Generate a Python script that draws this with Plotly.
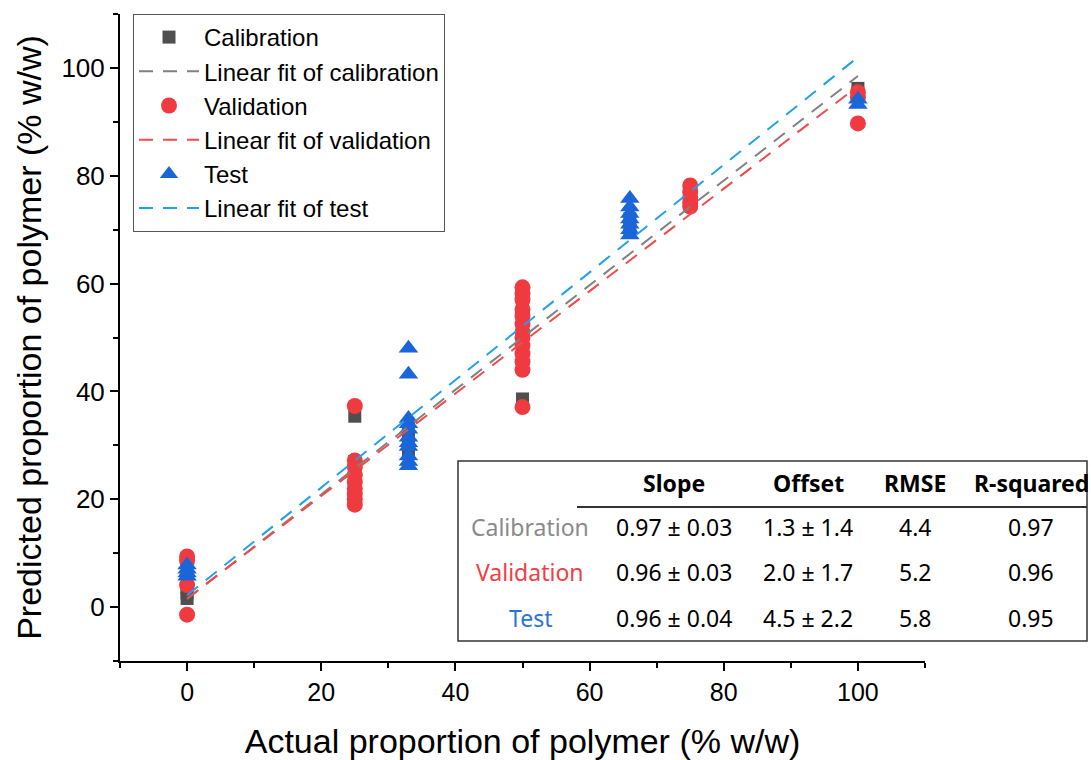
import plotly.graph_objects as go

# ---------------- data ----------------
cal_x = [0, 0, 0, 25, 25, 25, 25, 25, 33, 33, 33, 50, 50, 50, 50, 50, 50, 50, 66, 66, 75, 75, 100, 100]
cal_y = [1.6, 2.6, 3.6, 35.4, 27.0, 25.0, 23.0, 21.0, 29.0, 31.0, 33.0, 58.0, 56.0, 53.0, 50.0, 47.0, 45.0, 38.6, 70.0, 72.0, 75.0, 77.0, 96.2, 95.2]

val_x = [0, 0, 0, 0, 25, 25, 25, 25, 25, 25, 25, 25, 25,
         50, 50, 50, 50, 50, 50, 50, 50, 50, 50, 50, 50, 50,
         75, 75, 75, 75, 75, 100, 100, 100]
val_y = [9.4, 8.6, 4.1, -1.4, 37.3, 27.2, 26.0, 24.5, 23.2, 22.0, 21.0, 20.0, 19.0,
         59.3, 58.2, 57.0, 55.2, 54.0, 52.5, 51.0, 50.0, 48.5, 47.0, 45.5, 44.0, 37.1,
         78.2, 77.0, 76.0, 75.0, 74.3, 95.5, 94.5, 89.7]

test_x = [0, 0, 0, 0, 33, 33, 33, 33, 33, 33, 33, 33, 33, 33, 33,
          66, 66, 66, 66, 66, 66, 66, 100, 100]
test_y = [7.8, 7.0, 6.3, 5.7, 48.0, 43.2, 35.0, 34.0, 33.0, 31.5, 30.5, 29.8, 28.0, 27.0, 26.2,
          75.8, 74.2, 73.0, 72.0, 71.0, 70.0, 69.0, 94.2, 93.2]

# linear fits as drawn (intercept, slope) and fit range
fit_range = [0, 100]
cal_fit = (1.5, 0.97)
val_fit = (1.6, 0.95)
test_fit = (2.2, 0.998)

# table
tbl_header = ["Slope", "Offset", "RMSE", "R-squared"]
tbl_rows = ["Calibration", "Validation", "Test"]
tbl_slope = ["0.97 ± 0.03", "0.96 ± 0.03", "0.96 ± 0.04"]
tbl_offset = ["1.3 ± 1.4", "2.0 ± 1.7", "4.5 ± 2.2"]
tbl_rmse = ["4.4", "5.2", "5.8"]
tbl_r2 = ["0.97", "0.96", "0.95"]

x_ticks = [0, 20, 40, 60, 80, 100]
y_ticks = [0, 20, 40, 60, 80, 100]

# ---------------- styles ----------------
C_CAL_M = "#4f4f4f"
C_VAL_M = "#ef3b40"
C_TEST_M = "#1a66d9"
C_CAL_L = "#808080"
C_VAL_L = "#f04a4a"
C_TEST_L = "#22a0ee"
ROW_COLORS = ["#8a8a8a", "#ef4046", "#2b74d9"]
FONT = "Liberation Sans, Arial, sans-serif"
TFONT = "Noto Sans, sans-serif"
TSIZE = 23

W, H = 1091, 760
ML, MR, MT, MB = 120, 166, 14, 99
PW, PH = W - ML - MR, H - MT - MB


def px(x):
    return (x - ML) / PW


def py(y):
    return (H - MB - y) / PH


def fit_line(p):
    return [p[0] + p[1] * v for v in fit_range]


fig = go.Figure()
fig.add_trace(go.Scatter(x=cal_x, y=cal_y, mode="markers", name="Calibration", legendrank=1,
                         marker=dict(symbol="square", size=13, color=C_CAL_M, line=dict(width=0))))
fig.add_trace(go.Scatter(x=val_x, y=val_y, mode="markers", name="Validation", legendrank=3,
                         marker=dict(symbol="circle", size=16, color=C_VAL_M, line=dict(width=0))))
fig.add_trace(go.Scatter(x=test_x, y=test_y, mode="markers", name="Test", legendrank=5,
                         marker=dict(symbol="triangle-up", size=17, color=C_TEST_M, line=dict(width=0))))
fig.add_trace(go.Scatter(x=fit_range, y=fit_line(cal_fit), mode="lines", name="Linear fit of calibration",
                         legendrank=2, line=dict(color=C_CAL_L, width=2, dash="14px,10px")))
fig.add_trace(go.Scatter(x=fit_range, y=fit_line(val_fit), mode="lines", name="Linear fit of validation",
                         legendrank=4, line=dict(color=C_VAL_L, width=2, dash="14px,10px")))
fig.add_trace(go.Scatter(x=fit_range, y=fit_line(test_fit), mode="lines", name="Linear fit of test",
                         legendrank=6, line=dict(color=C_TEST_L, width=2, dash="14px,10px")))

axis_common = dict(
    showgrid=False, zeroline=False, showline=True, linecolor="black", linewidth=2,
    ticks="outside", ticklen=8, tickwidth=2, tickcolor="black",
    minor=dict(ticks="outside", ticklen=5, tickwidth=2, tickcolor="black", dtick=10),
    mirror=False, automargin=False,
)
fig.update_xaxes(range=[-10, 110], tickvals=x_ticks, dtick=20, tick0=0,
                 tickfont=dict(family=FONT, size=25, color="black"),
                 title=dict(text="Actual proportion of polymer (% w/w)",
                            font=dict(family=FONT, size=34, color="black"), standoff=24),
                 **axis_common)
fig.update_yaxes(range=[-10, 110], tickvals=y_ticks, dtick=20, tick0=0,
                 tickfont=dict(family=FONT, size=26, color="black"),
                 title=dict(text="Predicted proportion of polymer (% w/w)",
                            font=dict(family=FONT, size=34, color="black"), standoff=10),
                 **axis_common)

# table box and rule
shapes = [
    dict(type="rect", xref="paper", yref="paper", x0=px(458), x1=px(1087), y0=py(641), y1=py(461),
         line=dict(color="#333333", width=1.5), fillcolor="white", layer="above"),
    dict(type="line", xref="paper", yref="paper", x0=px(577), x1=px(1087), y0=py(507), y1=py(507),
         line=dict(color="#333333", width=2), layer="above"),
]

annotations = []
col_x = [674, 808, 915, 1031]
for cx, h in zip(col_x, tbl_header):
    annotations.append(dict(xref="paper", yref="paper", x=px(cx), y=py(483), text=f"<b>{h}</b>",
                            showarrow=False, xanchor="center", yanchor="middle",
                            font=dict(family=TFONT, size=TSIZE, color="black")))
row_y = [527, 572, 618]
for i, ry in enumerate(row_y):
    annotations.append(dict(xref="paper", yref="paper", x=px(530), y=py(ry), text=tbl_rows[i],
                            showarrow=False, xanchor="center", yanchor="middle",
                            font=dict(family=TFONT, size=TSIZE, color=ROW_COLORS[i])))
    for cx, val in zip(col_x, [tbl_slope[i], tbl_offset[i], tbl_rmse[i], tbl_r2[i]]):
        annotations.append(dict(xref="paper", yref="paper", x=px(cx), y=py(ry), text=val,
                                showarrow=False, xanchor="center", yanchor="middle",
                                font=dict(family=TFONT, size=TSIZE, color="black")))

fig.update_layout(
    width=W, height=H,
    margin=dict(l=ML, r=MR, t=MT, b=MB, autoexpand=False),
    paper_bgcolor="white", plot_bgcolor="white",
    showlegend=True,
    legend=dict(x=px(133), y=py(14), xanchor="left", yanchor="top",
                bgcolor="white", bordercolor="#555555", borderwidth=1,
                font=dict(family=FONT, size=24, color="black"),
                itemwidth=60, tracegroupgap=0, traceorder="normal"),
    shapes=shapes,
    annotations=annotations,
)

fig.write_html("out.html")
